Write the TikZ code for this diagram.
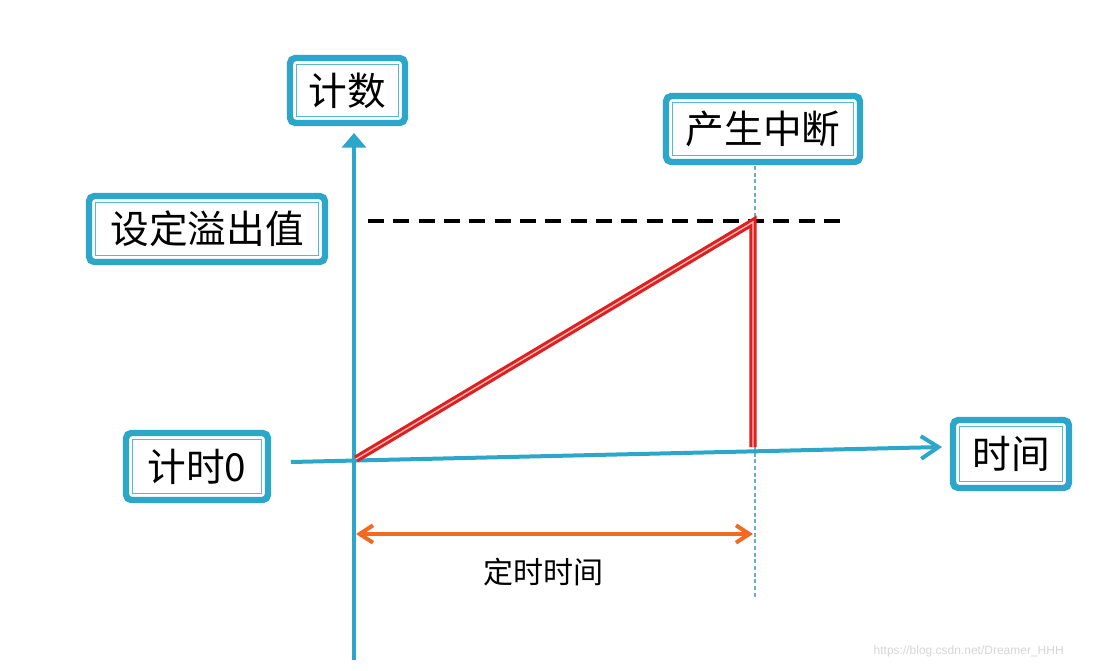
\documentclass[tikz,border=0pt]{standalone}
\usepackage{fontspec}
\newfontfamily\cjk{Noto Sans CJK SC}
\newfontfamily\wmfont{Liberation Sans}
\usetikzlibrary{arrows.meta}
\definecolor{axc}{HTML}{2DA7C9}
\definecolor{innc}{HTML}{55B8D4}
\definecolor{redc}{HTML}{E01F1F}
\definecolor{pinkc}{HTML}{F6BDBD}
\definecolor{orc}{HTML}{F26A22}
\definecolor{dotc}{HTML}{6AAFC6}
\definecolor{wmc}{HTML}{D6D6D6}
\tikzset{
  lbl/.style={draw=axc, line width=4.8pt, rounded corners=4pt, fill=white,
    inner sep=0pt, outer sep=0pt, text=black, font=\cjk\fontsize{29}{32}\selectfont},
  innerline/.style={draw=innc, line width=1.1pt},
  axis/.style={draw=axc, line width=3pt},
  redl/.style={draw=redc, line width=2.3pt, double=pinkc, double distance=1pt, miter limit=3},
  orl/.style={draw=orc, line width=3pt},
  dashl/.style={draw=black, line width=3pt, dash pattern=on 12pt off 7pt},
  dotl/.style={draw=dotc, line width=0.8pt, dash pattern=on 3pt off 2pt},
}
\newcommand\cbx[5]{%
  \node[lbl, minimum width=#3*0.75pt, minimum height=#4*0.75pt] (#1) at #2 {#5};
  \draw[innerline] ([shift={(6.5,-6.5)}]#1.south west) rectangle ([shift={(-6.5,6.5)}]#1.north east);
}
\begin{document}
\begin{tikzpicture}[x=0.75pt, y=-0.75pt]
\useasboundingbox (0,0) rectangle (1103,671);
\fill[white] (0,0) rectangle (1103,671);

% dotted vertical guide
\coordinate (d0) at (755,166);
\coordinate (d1) at (755,598);
\draw[dotl] (d0) -- (d1);

% dashed overflow level
\coordinate (k0) at (368,221);
\coordinate (k1) at (848,221);
\draw[dashl] (k0) -- (k1);

% axes
\coordinate (vb) at (354,660);
\coordinate (vt) at (354,133);
\draw[axis, -{Triangle[length=11pt,width=18pt]}] (vb) -- (vt);
\coordinate (hs) at (291,462);
\coordinate (he) at (942,447);
\draw[axis, -{Straight Barb[length=13pt,width=17pt]}] (hs) -- (he);

% red counter ramp
\coordinate (r0) at (356,459);
\coordinate (r1) at (753,222);
\coordinate (r2) at (753,447);
\draw[redl] (r0) -- (r1) -- (r2);

% orange interval
\coordinate (o0) at (356,534);
\coordinate (o1) at (753,534);
\draw[orl, {Straight Barb[length=10pt,width=13pt]}-{Straight Barb[length=10pt,width=13pt]}] (o0) -- (o1);
\node[font=\cjk\fontsize{22.5}{26}\selectfont] (ds) at (543,572) {定时时间};

% boxes
\cbx{jishu}{(347.5,90.5)}{115}{65}{计数}
\cbx{zhongduan}{(763,129)}{194}{66}{产生中断}
\cbx{yichu}{(207,229)}{236}{66}{设定溢出值}
\cbx{jishi}{(197,466.5)}{142}{67}{计时0}
\cbx{shijian}{(1011,454)}{116}{68}{时间}

% watermark
\node[font=\wmfont\fontsize{9}{11}\selectfont, text=wmc, anchor=east, inner sep=0pt] (wm) at (1064,651) {https://blog.csdn.net/Dreamer\_HHH};
\end{tikzpicture}
\end{document}
